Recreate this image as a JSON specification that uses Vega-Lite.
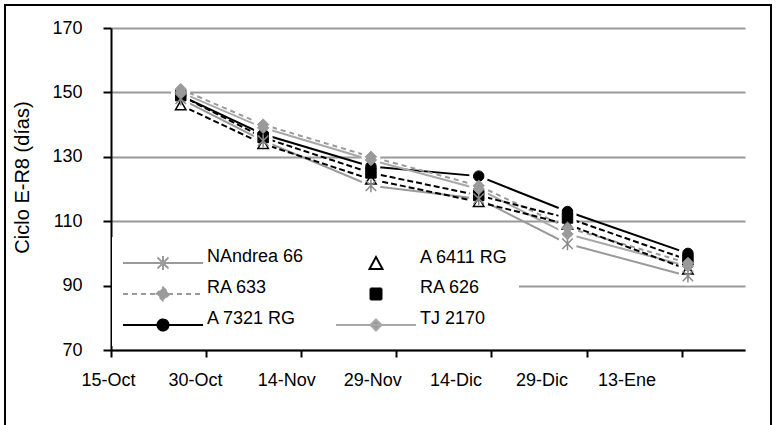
{
  "$schema": "https://vega.github.io/schema/vega-lite/v6.json",
  "width": 766,
  "height": 425,
  "autosize": {"type": "none"},
  "padding": {"left": 5, "top": 5, "right": 6, "bottom": 0},
  "background": "white",
  "config": {
    "view": {"stroke": "black", "strokeWidth": 2},
    "font": "Liberation Sans"
  },
  "data": {
    "values": [
      {"serie": "A 6411 RG", "fecha": "2007/10/26", "ciclo": 146},
      {"serie": "A 6411 RG", "fecha": "2007/11/08", "ciclo": 134},
      {"serie": "A 6411 RG", "fecha": "2007/11/25", "ciclo": 123},
      {"serie": "A 6411 RG", "fecha": "2007/12/12", "ciclo": 116},
      {"serie": "A 6411 RG", "fecha": "2007/12/26", "ciclo": 109},
      {"serie": "A 6411 RG", "fecha": "2008/01/14", "ciclo": 95},
      {"serie": "RA 626", "fecha": "2007/10/26", "ciclo": 149},
      {"serie": "RA 626", "fecha": "2007/11/08", "ciclo": 136},
      {"serie": "RA 626", "fecha": "2007/11/25", "ciclo": 125},
      {"serie": "RA 626", "fecha": "2007/12/12", "ciclo": 118},
      {"serie": "RA 626", "fecha": "2007/12/26", "ciclo": 111},
      {"serie": "RA 626", "fecha": "2008/01/14", "ciclo": 98},
      {"serie": "A 7321 RG", "fecha": "2007/10/26", "ciclo": 149},
      {"serie": "A 7321 RG", "fecha": "2007/11/08", "ciclo": 137},
      {"serie": "A 7321 RG", "fecha": "2007/11/25", "ciclo": 127},
      {"serie": "A 7321 RG", "fecha": "2007/12/12", "ciclo": 124},
      {"serie": "A 7321 RG", "fecha": "2007/12/26", "ciclo": 113},
      {"serie": "A 7321 RG", "fecha": "2008/01/14", "ciclo": 100},
      {"serie": "NAndrea 66", "fecha": "2007/10/26", "ciclo": 148},
      {"serie": "NAndrea 66", "fecha": "2007/11/08", "ciclo": 135},
      {"serie": "NAndrea 66", "fecha": "2007/11/25", "ciclo": 121},
      {"serie": "NAndrea 66", "fecha": "2007/12/12", "ciclo": 117},
      {"serie": "NAndrea 66", "fecha": "2007/12/26", "ciclo": 103},
      {"serie": "NAndrea 66", "fecha": "2008/01/14", "ciclo": 93},
      {"serie": "RA 633", "fecha": "2007/10/26", "ciclo": 151},
      {"serie": "RA 633", "fecha": "2007/11/08", "ciclo": 140},
      {"serie": "RA 633", "fecha": "2007/11/25", "ciclo": 130},
      {"serie": "RA 633", "fecha": "2007/12/12", "ciclo": 121},
      {"serie": "RA 633", "fecha": "2007/12/26", "ciclo": 108},
      {"serie": "RA 633", "fecha": "2008/01/14", "ciclo": 97},
      {"serie": "TJ 2170", "fecha": "2007/10/26", "ciclo": 150},
      {"serie": "TJ 2170", "fecha": "2007/11/08", "ciclo": 139},
      {"serie": "TJ 2170", "fecha": "2007/11/25", "ciclo": 129},
      {"serie": "TJ 2170", "fecha": "2007/12/12", "ciclo": 120},
      {"serie": "TJ 2170", "fecha": "2007/12/26", "ciclo": 106},
      {"serie": "TJ 2170", "fecha": "2008/01/14", "ciclo": 96}
    ]
  },
  "encoding": {
    "x": {
      "field": "fecha",
      "type": "temporal",
      "scale": {
        "domain": [{"year": 2007, "month": 10, "date": 15}, {"year": 2008, "month": 1, "date": 23}],
        "range": [106, 740]
      },
      "axis": {
        "title": null,
        "orient": "bottom",
        "offset": -80,
        "grid": false,
        "values": [
          {"year": 2007, "month": 10, "date": 15},
          {"year": 2007, "month": 10, "date": 30},
          {"year": 2007, "month": 11, "date": 14},
          {"year": 2007, "month": 11, "date": 29},
          {"year": 2007, "month": 12, "date": 14},
          {"year": 2007, "month": 12, "date": 29},
          {"year": 2008, "month": 1, "date": 13}
        ],
        "labelExpr": "date(datum.value) + '-' + ['Ene','Feb','Mar','Abr','May','Jun','Jul','Ago','Sep','Oct','Nov','Dic'][month(datum.value)]",
        "labelFont": "Liberation Sans",
        "labelFontSize": 18,
        "labelColor": "black",
        "labelPadding": 14,
        "labelFlush": false,
        "labelOverlap": false,
        "labelOffset": {
          "condition": [
            {"test": "month(datum.value) === 0", "value": -55},
            {"test": "month(datum.value) === 11 && date(datum.value) > 20", "value": -45},
            {"test": "month(datum.value) === 11", "value": -36},
            {"test": "month(datum.value) === 10 && date(datum.value) > 20", "value": -24},
            {"test": "month(datum.value) === 10", "value": -15},
            {"test": "date(datum.value) > 20", "value": -11}
          ],
          "value": -3
        },
        "domainColor": "black",
        "domainWidth": 2,
        "tickColor": "black",
        "tickWidth": 2,
        "tickSize": 7
      }
    },
    "y": {
      "field": "ciclo",
      "type": "quantitative",
      "scale": {"domain": [70, 170], "range": [345, 23], "nice": false, "zero": false},
      "axis": {
        "title": "Ciclo E-R8 (días)",
        "orient": "left",
        "offset": -106,
        "values": [70, 90, 110, 130, 150, 170],
        "grid": true,
        "gridColor": "#999999",
        "gridWidth": 2,
        "labelFont": "Liberation Sans",
        "labelFontSize": 18,
        "labelColor": "black",
        "labelPadding": 21,
        "domainColor": "black",
        "domainWidth": 2,
        "tickColor": "black",
        "tickWidth": 2,
        "tickSize": 8,
        "titleFont": "Liberation Sans",
        "titleFontSize": 20,
        "titleFontWeight": "normal",
        "titleColor": "black",
        "titleAngle": -90,
        "titleAlign": "center",
        "titleBaseline": "alphabetic",
        "titleX": -83,
        "titleY": 172
      }
    },
    "color": {
      "field": "serie",
      "type": "nominal",
      "scale": {
        "domain": ["NAndrea 66", "RA 633", "A 7321 RG", "A 6411 RG", "RA 626", "TJ 2170"],
        "range": ["#9a9a9a", "#9a9a9a", "#000000", "#000000", "#000000", "#a8a8a8"]
      },
      "legend": {
        "title": null,
        "orient": "none",
        "legendX": 107,
        "legendY": 232,
        "columns": 2,
        "gridAlign": "each",
        "columnPadding": 28,
        "rowPadding": 5,
        "padding": 11,
        "fillColor": "white",
        "labelFont": "Liberation Sans",
        "labelFontSize": 18,
        "labelColor": "black",
        "labelLimit": 0,
        "labelOffset": 35,
        "symbolOffset": 31,
        "symbolSize": 100,
        "symbolStrokeWidth": 2,
        "encode": {
          "symbols": {
            "update": {
              "shape": {"signal": "datum.value === 'NAndrea 66' ? 'M-8,1.2L8,1.2M-1.1,0.1L1.1,2.3M-1.1,2.3L1.1,0.1M0,-0.2L0,2.6' : datum.value === 'A 6411 RG' ? 'M0,-0.2L1.3,2.2L-1.3,2.2Z' : datum.value === 'RA 633' ? 'M-8,1.2L8,1.2M0,-0.1L1.3,1.2L0,2.5L-1.3,1.2Z' : datum.value === 'RA 626' ? 'M-1.1,0.1L1.1,0.1L1.1,2.3L-1.1,2.3Z' : datum.value === 'A 7321 RG' ? 'M-8,1.2L8,1.2M1.1,1.2A1.1,1.1,0,1,1,-1.1,1.2A1.1,1.1,0,1,1,1.1,1.2Z' : 'M-8,1.2L8,1.2M0,0.1L1.1,1.2L0,2.3L-1.1,1.2Z'"},
              "fill": {"signal": "datum.value === 'NAndrea 66' ? 'transparent' : datum.value === 'A 6411 RG' ? 'white' : (datum.value === 'RA 626' || datum.value === 'A 7321 RG') ? 'black' : '#9a9a9a'"},
              "strokeDash": {"signal": "datum.value === 'RA 633' ? [5, 4] : [1, 0]"},
              "strokeWidth": {"value": 2},
              "opacity": {"value": 1}
            }
          }
        }
      }
    }
  },
  "layer": [
    {
      "transform": [{"filter": "datum.serie === 'NAndrea 66' || datum.serie === 'A 7321 RG' || datum.serie === 'TJ 2170'"}],
      "mark": {"type": "line", "strokeWidth": 2}
    },
    {
      "transform": [{"filter": "datum.serie === 'RA 633'"}],
      "mark": {"type": "line", "strokeWidth": 2, "strokeDash": [5, 4]}
    },
    {
      "transform": [{"filter": "datum.serie === 'A 6411 RG' || datum.serie === 'RA 626'"}],
      "mark": {"type": "line", "strokeWidth": 2, "strokeDash": [6, 3]}
    },
    {
      "mark": {"type": "point", "filled": true, "opacity": 1, "size": 360, "color": "white", "strokeWidth": 0},
      "encoding": {"color": {"value": "white"}, "detail": {"field": "serie", "type": "nominal"}}
    },
    {
      "transform": [{"filter": "datum.serie === 'A 6411 RG'"}],
      "mark": {"type": "point", "shape": "triangle-up", "size": 110, "opacity": 1, "fill": "white", "stroke": "black", "strokeWidth": 1.5},
      "encoding": {"color": {"value": null}}
    },
    {
      "transform": [{"filter": "datum.serie === 'RA 626'"}],
      "mark": {"type": "point", "shape": "square", "size": 110, "opacity": 1, "filled": true, "fill": "black", "stroke": "black", "strokeWidth": 1},
      "encoding": {"color": {"value": null}}
    },
    {
      "transform": [{"filter": "datum.serie === 'A 7321 RG'"}],
      "mark": {"type": "point", "shape": "circle", "size": 110, "opacity": 1, "filled": true, "fill": "black", "stroke": "black", "strokeWidth": 1},
      "encoding": {"color": {"value": null}}
    },
    {
      "transform": [{"filter": "datum.serie === 'NAndrea 66'"}],
      "mark": {"type": "point", "shape": "M-1,-1L1,1M-1,1L1,-1M0,-1.25L0,1.25", "size": 110, "opacity": 1, "fill": "transparent", "stroke": "#8a8a8a", "strokeWidth": 1.5},
      "encoding": {"color": {"value": null}}
    },
    {
      "transform": [{"filter": "datum.serie === 'RA 633' || datum.serie === 'TJ 2170'"}],
      "mark": {"type": "point", "shape": "diamond", "size": 130, "opacity": 1, "filled": true, "fill": "#9a9a9a", "stroke": "#9a9a9a", "strokeWidth": 1},
      "encoding": {"color": {"value": null}}
    }
  ]
}
